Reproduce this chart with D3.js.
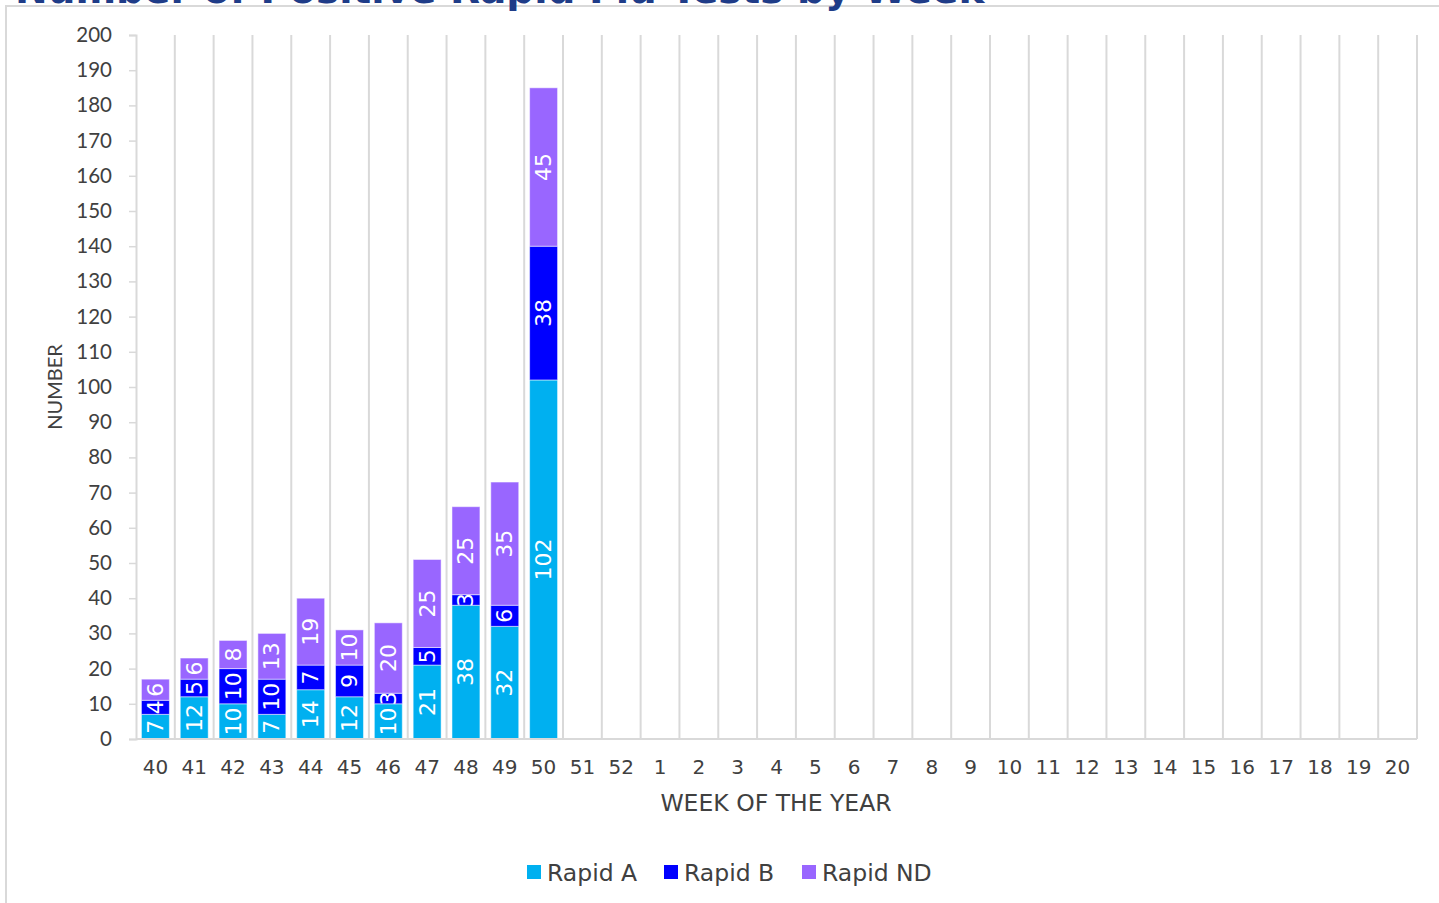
<!DOCTYPE html>
<html><head><meta charset="utf-8">
<script src="https://cdn.jsdelivr.net/npm/d3@7"></script>
<style>body{margin:0;background:#fff;overflow:hidden}svg{display:block}</style>
</head><body>
<script>
const weeks = ["40","41","42","43","44","45","46","47","48","49","50","51","52","1","2","3","4","5","6","7","8","9","10","11","12","13","14","15","16","17","18","19","20"];
const rapidA  = [7,12,10,7,14,12,10,21,38,32,102];
const rapidB  = [4,5,10,10,7,9,3,5,3,6,38];
const rapidND = [6,6,8,13,19,10,20,25,25,35,45];
const seriesNames = ["Rapid A","Rapid B","Rapid ND"];
const colors = ["#00B0F0","#0000FF","#9966FF"];
const yTicks = d3.range(0,201,10);

const W=1439,H=903;
const svg=d3.select("body").append("svg").attr("width",W).attr("height",H);

// frame
svg.append("rect").attr("x",6).attr("y",6).attr("width",W+20).attr("height",H+20)
  .attr("fill","none").attr("stroke","#d9d9d9").attr("stroke-width",2);

// title (cut off at top, as in the reference)
svg.append("text").attr("x",15).attr("y",3).attr("font-family","DejaVu Sans").attr("font-weight","bold")
  .attr("font-size",39).attr("fill","#1F3C88").text("Number of Positive Rapid Flu Tests by Week");

const x=d3.scaleBand().domain(weeks).range([136,1417]).paddingInner(0.28).paddingOuter(0.14);
const y=d3.scaleLinear().domain([0,200]).range([739,35]);
const step=x.step();

// vertical gridlines at category boundaries
const g=svg.append("g");
weeks.forEach((w,i)=>{
  const xb=136+step*(i+1);
  g.append("line").attr("x1",xb).attr("x2",xb).attr("y1",y(200)).attr("y2",y(0))
   .attr("stroke","#d9d9d9").attr("stroke-width",2);
});

// y axis
const yAxis=d3.axisLeft(y).tickValues(yTicks).tickSize(7).tickPadding(17);
const ya=svg.append("g").attr("transform","translate(136,0)").call(yAxis);
ya.select(".domain").attr("stroke","#d9d9d9").attr("stroke-width",2);
ya.selectAll(".tick line").attr("stroke","#d9d9d9").attr("stroke-width",1.5);
ya.selectAll(".tick text").attr("font-family","Lato").attr("font-size",20.5).attr("fill","#404040");

// stacked bars
const rows=rapidA.map((a,i)=>({week:weeks[i],"Rapid A":a,"Rapid B":rapidB[i],"Rapid ND":rapidND[i]}));
const stack=d3.stack().keys(seriesNames)(rows);
stack.forEach((s,k)=>{
  const gg=svg.append("g");
  s.forEach(d=>{
    const x0=x(d.data.week), bw=x.bandwidth();
    gg.append("rect").attr("x",x0).attr("width",bw).attr("y",y(d[1])).attr("height",y(d[0])-y(d[1]))
      .attr("fill",colors[k]).attr("stroke","rgba(255,255,255,0.5)").attr("stroke-width",1);
    const cy=(y(d[0])+y(d[1]))/2, cx=x0+bw/2;
    gg.append("text").attr("transform",`translate(${cx},${cy}) rotate(-90)`)
      .attr("text-anchor","middle").attr("dominant-baseline","central")
      .attr("font-family","DejaVu Sans").attr("font-size",22).attr("fill","#fff")
      .text(d.data[s.key]);
  });
});

// x axis
svg.append("line").attr("x1",136).attr("x2",1417).attr("y1",y(0)).attr("y2",y(0)).attr("stroke","#d9d9d9").attr("stroke-width",2);
const xAxis=d3.axisBottom(x).tickSize(0).tickPadding(21);
const xa=svg.append("g").attr("transform",`translate(0,${y(0)})`).call(xAxis);
xa.select(".domain").remove();
xa.selectAll(".tick text").attr("font-family","DejaVu Sans").attr("font-size",20).attr("fill","#404040");

// axis titles
svg.append("text").attr("x",776).attr("y",811).attr("text-anchor","middle").attr("font-family","DejaVu Sans")
  .attr("font-size",23.5).attr("fill","#404040").text("WEEK OF THE YEAR");
svg.append("text").attr("transform","translate(62,387) rotate(-90)").attr("text-anchor","middle")
  .attr("font-family","Lato").attr("font-size",20).attr("fill","#404040").text("NUMBER");

// legend
const legX=[527,664,802];
seriesNames.forEach((n,i)=>{
  svg.append("rect").attr("x",legX[i]).attr("y",865).attr("width",14).attr("height",14).attr("fill",colors[i]);
  svg.append("text").attr("x",legX[i]+20).attr("y",881).attr("font-family","DejaVu Sans").attr("font-size",23.5)
    .attr("fill","#404040").text(n);
});
</script>
</body></html>
